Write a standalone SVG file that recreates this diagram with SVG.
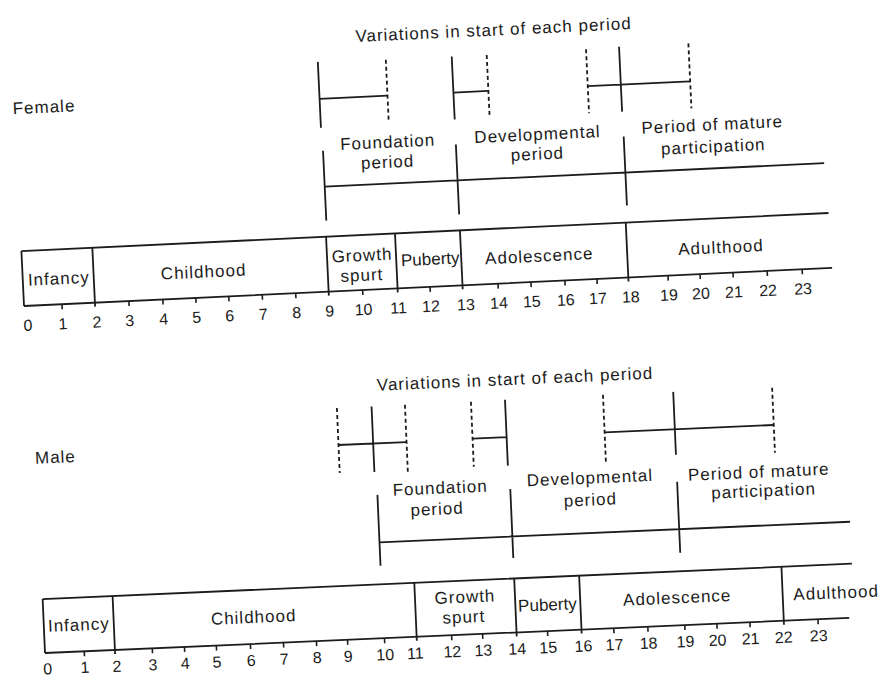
<svg xmlns="http://www.w3.org/2000/svg" width="881" height="678" viewBox="0 0 881 678">
<style>
  .ln{stroke:#1c1c1c;stroke-width:1.8;fill:none;stroke-linecap:butt}
  .ds{stroke:#1c1c1c;stroke-width:1.8;fill:none;stroke-dasharray:4,3}
  .tk{stroke:#1c1c1c;stroke-width:1.6}
  text{font-family:"Liberation Sans",Arial,Helvetica,sans-serif;fill:#1c1c1c}
  .lb{font-size:17px;letter-spacing:1px;text-anchor:middle}
  .nm{font-size:16px;text-anchor:middle}
  .sd{font-size:17px;letter-spacing:1px}
</style>
<rect width="881" height="678" fill="#ffffff"/>

<!-- FEMALE -->
<g id="female" transform="translate(24,306) rotate(-2.7)">
  <text id="female-label" class="sd" x="-2" y="-192">Female</text>
  <text id="female-variations-title" class="lb" x="482" y="-248">Variations in start of each period</text>

  <g id="female-bar">
    <path class="ln" d="M0,-55 H808 M0,0 H809 M0,-55 V0"/>
  </g>
  <g id="female-infancy"><path class="ln" d="M71,-55 V4"/><text class="lb" x="36" y="-20">Infancy</text></g>
  <g id="female-childhood"><path class="ln" d="M305,-55 V4"/><text class="lb" x="181" y="-20">Childhood</text></g>
  <g id="female-growth"><path class="ln" d="M374,-55 V4"/><text class="lb" x="340" y="-29">Growth</text><text class="lb" x="339" y="-9">spurt</text></g>
  <g id="female-puberty"><path class="ln" d="M439,-55 V4"/><text class="lb" x="408" y="-22" style="letter-spacing:0">Puberty</text></g>
  <g id="female-adolescence"><path class="ln" d="M605,-55 V4"/><text class="lb" x="517" y="-20">Adolescence</text></g>
  <g id="female-adulthood"><text class="lb" x="699" y="-20">Adulthood</text></g>

  <g id="female-axis">
    <path class="tk" d="M38,0V5 M105,0V5 M139,0V5 M172,0V5 M205,0V5 M238.5,0V5 M272,0V5 M339,0V5 M406.5,0V5 M474.5,0V5 M507.5,0V5 M541.5,0V5 M573.6,0V5 M644.7,0V5 M676.8,0V5 M709.8,0V5 M744,0V5 M779,0V5"/>
    <text class="nm" x="3" y="25">0</text><text class="nm" x="38" y="25">1</text><text class="nm" x="72" y="25">2</text>
    <text class="nm" x="105" y="25">3</text><text class="nm" x="139" y="25">4</text><text class="nm" x="172" y="25">5</text>
    <text class="nm" x="205" y="25">6</text><text class="nm" x="238.5" y="25">7</text><text class="nm" x="272" y="25">8</text>
    <text class="nm" x="305" y="25">9</text><text class="nm" x="339" y="25">10</text><text class="nm" x="374" y="25">11</text>
    <text class="nm" x="406.5" y="25">12</text><text class="nm" x="441.5" y="25">13</text><text class="nm" x="474.5" y="25">14</text>
    <text class="nm" x="507.5" y="25">15</text><text class="nm" x="541.5" y="25">16</text><text class="nm" x="573.6" y="25">17</text>
    <text class="nm" x="606.6" y="25">18</text><text class="nm" x="644.7" y="25">19</text><text class="nm" x="676.8" y="25">20</text>
    <text class="nm" x="709.8" y="25">21</text><text class="nm" x="744" y="25">22</text><text class="nm" x="779" y="25">23</text>
  </g>

  <g id="female-foundation"><text class="lb" x="371" y="-141">Foundation</text><text class="lb" x="370" y="-121">period</text></g>
  <g id="female-developmental"><text class="lb" x="521" y="-141.5">Developmental</text><text class="lb" x="520" y="-122">period</text></g>
  <g id="female-mature"><text class="lb" x="696" y="-143">Period of mature</text><text class="lb" x="696" y="-121">participation</text></g>

  <g id="female-connectors">
    <path class="ln" d="M306,-141 V-71 M439,-141 V-71 M607,-141 V-72 M306,-105 H806"/>
    <path class="ln" d="M305,-230 V-164 M439,-229 V-166 M606.6,-231 V-166 M305,-193 H373 M439,-193 H474 M573.5,-193 H676"/>
    <path class="ds" d="M373,-229 V-166 M474,-229 V-166 M573.5,-230 V-166 M676,-231 V-166"/>
  </g>
</g>

<!-- MALE -->
<g id="male" transform="translate(45,653) rotate(-2.5)">
  <text id="male-label" class="sd" x="-1.5" y="-189.5">Male</text>
  <text id="male-variations-title" class="lb" x="481.5" y="-247.5">Variations in start of each period</text>

  <g id="male-bar">
    <path class="ln" d="M0,-54 H810 M0,0 H805 M0,-54 V0"/>
  </g>
  <g id="male-infancy"><path class="ln" d="M70,-54 V4"/><text class="lb" x="35" y="-21">Infancy</text></g>
  <g id="male-childhood"><path class="ln" d="M372,-54 V4"/><text class="lb" x="210" y="-21">Childhood</text></g>
  <g id="male-growth"><path class="ln" d="M472,-54 V4"/><text class="lb" x="422" y="-32">Growth</text><text class="lb" x="420" y="-12">spurt</text></g>
  <g id="male-puberty"><path class="ln" d="M537,-54 V4"/><text class="lb" x="504" y="-20.5" style="letter-spacing:0">Puberty</text></g>
  <g id="male-adolescence"><path class="ln" d="M739.5,-54 V4"/><text class="lb" x="634" y="-22">Adolescence</text></g>
  <g id="male-adulthood"><text class="lb" x="793" y="-20">Adulthood</text></g>

  <g id="male-axis">
    <path class="tk" d="M39.3,0V5 M107.4,0V5 M139.6,0V5 M171.5,0V5 M205.6,0V5 M238.7,0V5 M271.7,0V5 M302.8,0V5 M339.8,0V5 M407,0V5 M438,0V5 M503,0V5 M569.3,0V5 M603.4,0V5 M640.4,0V5 M672.5,0V5 M705.6,0V5 M773.7,0V5"/>
    <text class="nm" x="2" y="21.5">0</text><text class="nm" x="39.3" y="21.5">1</text><text class="nm" x="71.3" y="22">2</text>
    <text class="nm" x="107.4" y="22">3</text><text class="nm" x="139.6" y="22">4</text><text class="nm" x="171.5" y="22">5</text>
    <text class="nm" x="205.6" y="22">6</text><text class="nm" x="238.7" y="22">7</text><text class="nm" x="271.7" y="22">8</text>
    <text class="nm" x="302.8" y="22">9</text><text class="nm" x="339.8" y="22">10</text><text class="nm" x="369.9" y="22">11</text>
    <text class="nm" x="407" y="22">12</text><text class="nm" x="438" y="22">13</text><text class="nm" x="472" y="22">14</text>
    <text class="nm" x="503" y="22">15</text><text class="nm" x="538.3" y="22">16</text><text class="nm" x="569.3" y="22">17</text>
    <text class="nm" x="603.4" y="22">18</text><text class="nm" x="640.4" y="22">19</text><text class="nm" x="672.5" y="22">20</text>
    <text class="nm" x="705.6" y="22">21</text><text class="nm" x="738.7" y="22">22</text><text class="nm" x="773.7" y="22">23</text>
  </g>

  <g id="male-foundation"><text class="lb" x="402" y="-142">Foundation</text><text class="lb" x="398" y="-121">period</text></g>
  <g id="male-developmental"><text class="lb" x="552" y="-145.5">Developmental</text><text class="lb" x="551.5" y="-123.5">period</text></g>
  <g id="male-mature"><text class="lb" x="721" y="-144">Period of mature</text><text class="lb" x="725" y="-125">participation</text></g>

  <g id="male-connectors">
    <path class="ln" d="M339,-143.5 V-72.5 M472,-143.5 V-74.5 M639,-143.5 V-72.5 M339,-96 H810"/>
    <path class="ln" d="M337,-232 V-166.5 M470.6,-233 V-167 M639,-233.5 V-170.5 M302,-195 H370.4 M436.5,-195.6 H470.6 M568.7,-196 H738"/>
    <path class="ds" d="M302.3,-232 V-167 M370.4,-232.3 V-165.3 M436.5,-232.4 V-167.4 M568.7,-233.7 V-165.7 M738,-233.3 V-168.3"/>
  </g>
</g>
</svg>
